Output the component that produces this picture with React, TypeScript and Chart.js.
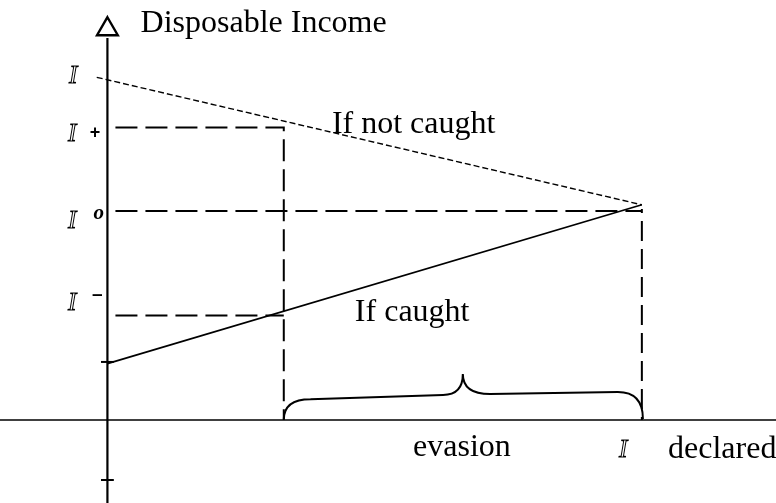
import React, { useEffect, useRef } from "react";
import { Chart, registerables } from "chart.js";

Chart.register(...registerables);

// ---- data (declared income on x, disposable income on y) ----
const xRange = [-2.01, 12.51];
const yRange = [-3.97, 20.1];

const notCaughtX = [-0.2, 10];
const notCaughtY = [16.4, 10.3];

const caughtX = [0, 10];
const caughtY = [2.7, 10.3];

const iPlusGuideX = [0.15, 3.3, 3.3];
const iPlusGuideY = [14.0, 14.0, 0];

const iZeroGuideX = [0.15, 10];
const iZeroGuideY = [10.0, 10.0];

const iMinusGuideX = [0.15, 3.3];
const iMinusGuideY = [5.0, 5.0];

const declaredGuideX = [10, 10];
const declaredGuideY = [10.1, 0];

const yAxisX = [0, 0];
const yAxisY = [18.28, -3.97];

const xAxisX = [-2.01, 12.51];
const xAxisY = [0, 0];

const tickX = [-0.12, 0.12];
const tickUpperY = [2.78, 2.78];
const tickLowerY = [-2.87, -2.87];

const arrowX = [0];
const arrowY = [18.7];

// brace: M p0, Q p1 p2, L p3, Q p4 p5, Q p6 p7, L p8, Q p9 p10
const braceX = [3.3, 3.3, 3.8, 6.28, 6.65, 6.65, 6.65, 7.16, 9.55, 10.02, 10.02];
const braceY = [0.02, 1.0, 1.0, 1.2, 1.2, 2.2, 1.24, 1.24, 1.34, 1.34, 0.05];

const pts = (xs: number[], ys: number[]) => xs.map((x, i) => ({ x, y: ys[i] }));

const SERIF = "'Liberation Serif', 'Times New Roman', serif";

type Label = {
  text: string;
  x: number;
  y: number;
  font: string;
  align: CanvasTextAlign;
  base: CanvasTextBaseline;
  outline?: boolean;
};

const IFONT = `italic 25px ${SERIF}`;
const TFONT = `32px ${SERIF}`;

const labels: Label[] = [
  { text: "Disposable Income", x: 0.62, y: 18.56, font: TFONT, align: "left", base: "alphabetic" },
  { text: "If not caught", x: 4.2, y: 13.72, font: TFONT, align: "left", base: "alphabetic" },
  { text: "If caught", x: 4.63, y: 4.74, font: TFONT, align: "left", base: "alphabetic" },
  { text: "evasion", x: 5.72, y: -1.72, font: TFONT, align: "left", base: "alphabetic" },
  { text: "declared", x: 10.49, y: -1.82, font: TFONT, align: "left", base: "alphabetic" },
  { text: "I", x: -0.64, y: 16.15, font: IFONT, align: "center", base: "alphabetic", outline: true },
  { text: "I", x: -0.66, y: 13.35, font: IFONT, align: "center", base: "alphabetic", outline: true },
  { text: "I", x: -0.66, y: 9.2, font: IFONT, align: "center", base: "alphabetic", outline: true },
  { text: "I", x: -0.66, y: 5.25, font: IFONT, align: "center", base: "alphabetic", outline: true },
  { text: "I", x: 9.65, y: -1.75, font: IFONT, align: "center", base: "alphabetic", outline: true },
  { text: "+", x: -0.23, y: 13.72, font: `bold 18px 'Liberation Sans'`, align: "center", base: "middle" },
  { text: "o", x: -0.16, y: 9.86, font: `bold italic 21px ${SERIF}`, align: "center", base: "middle" },
  { text: "\u2013", x: -0.19, y: 6.0, font: `bold 19px 'Liberation Sans'`, align: "center", base: "middle" },
];

const decorPlugin = {
  id: "decor",
  afterDatasetsDraw(chart: any) {
    const { ctx, scales } = chart;
    const px = (v: number) => scales.x.getPixelForValue(v);
    const py = (v: number) => scales.y.getPixelForValue(v);
    // brace
    const P = braceX.map((x, i) => [px(x), py(braceY[i])]);
    ctx.save();
    ctx.strokeStyle = "#000";
    ctx.lineWidth = 2;
    ctx.beginPath();
    ctx.moveTo(P[0][0], P[0][1]);
    ctx.quadraticCurveTo(P[1][0], P[1][1], P[2][0], P[2][1]);
    ctx.lineTo(P[3][0], P[3][1]);
    ctx.quadraticCurveTo(P[4][0], P[4][1], P[5][0], P[5][1]);
    ctx.quadraticCurveTo(P[6][0], P[6][1], P[7][0], P[7][1]);
    ctx.lineTo(P[8][0], P[8][1]);
    ctx.quadraticCurveTo(P[9][0], P[9][1], P[10][0], P[10][1]);
    ctx.stroke();
    // labels
    ctx.fillStyle = "#000";
    labels.forEach((l) => {
      ctx.font = l.font;
      ctx.textAlign = l.align;
      ctx.textBaseline = l.base;
      if (l.outline) {
        ctx.lineWidth = 1;
        ctx.strokeText(l.text, px(l.x), py(l.y));
      } else {
        ctx.fillText(l.text, px(l.x), py(l.y));
      }
    });
    ctx.restore();
  },
};

const line = (data: any, opts: any = {}) => ({
  data,
  borderColor: "#000",
  borderWidth: 2,
  pointRadius: 0,
  fill: false,
  tension: 0,
  clip: false,
  ...opts,
});

export default function App() {
  const ref = useRef<HTMLCanvasElement>(null);
  useEffect(() => {
    if (!ref.current) return;
    const LONG = [22, 8];
    const chart = new Chart(ref.current, {
      type: "line",
      data: {
        datasets: [
          line(pts(xAxisX, xAxisY), { borderWidth: 1.6 }),
          line(pts(yAxisX, yAxisY), { borderWidth: 2.2 }),
          line(pts(tickX, tickUpperY), { borderWidth: 2 }),
          line(pts(tickX, tickLowerY), { borderWidth: 2 }),
          line(pts(iPlusGuideX, iPlusGuideY), { borderDash: LONG, borderWidth: 2 }),
          line(pts(iZeroGuideX, iZeroGuideY), { borderDash: LONG, borderWidth: 2 }),
          line(pts(iMinusGuideX, iMinusGuideY), { borderDash: LONG, borderWidth: 2 }),
          line(pts(declaredGuideX, declaredGuideY), { borderDash: [20, 8], borderDashOffset: 16, borderWidth: 2 }),
          line(pts(notCaughtX, notCaughtY), { borderDash: [6, 3], borderWidth: 1.4 }),
          line(pts(caughtX, caughtY), { borderWidth: 1.7 }),
          {
            data: pts(arrowX, arrowY),
            showLine: false,
            pointStyle: "triangle",
            pointRadius: 12,
            pointBorderWidth: 2.4,
            pointBorderColor: "#000",
            pointBackgroundColor: "#fff",
            clip: false,
          } as any,
        ],
      },
      options: {
        animation: false,
        responsive: true,
        maintainAspectRatio: false,
        layout: { padding: 0, autoPadding: false } as any,
        plugins: { legend: { display: false }, tooltip: { enabled: false }, title: { display: false } },
        events: [],
        scales: {
          x: { type: "linear", min: xRange[0], max: xRange[1], display: false },
          y: { type: "linear", min: yRange[0], max: yRange[1], display: false },
        },
      },
      plugins: [decorPlugin],
    });
    return () => chart.destroy();
  }, []);
  return (
    <div style={{ position: "absolute", left: 0, top: 0, width: 776, height: 503, background: "#fff" }}>
      <canvas ref={ref} />
    </div>
  );
}
